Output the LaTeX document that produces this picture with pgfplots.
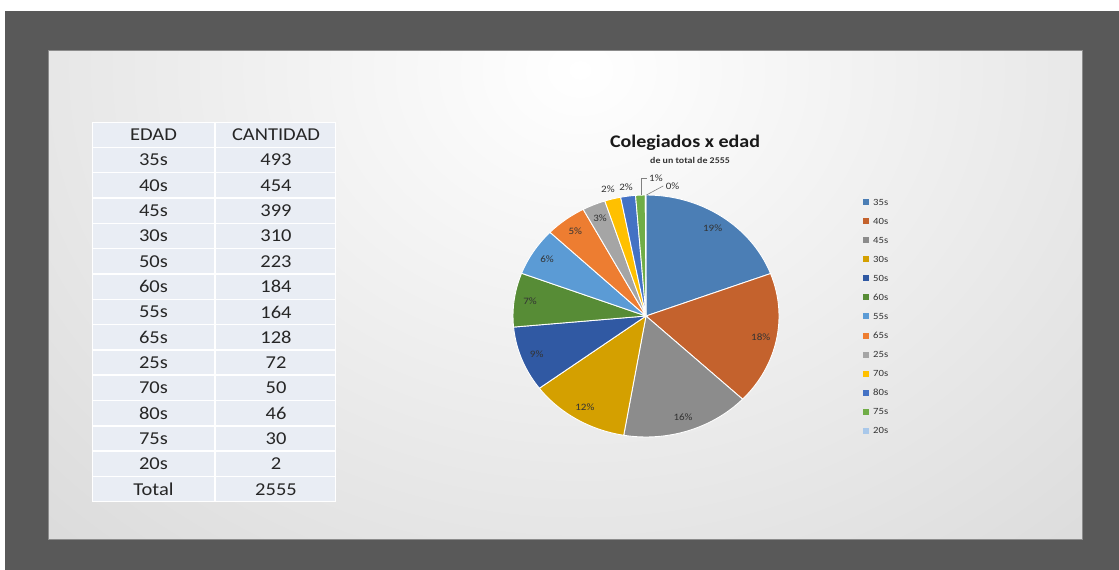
\documentclass[border=0pt]{standalone}
\usepackage{fontspec}
\setmainfont{Carlito}
\usepackage{graphicx}
\usepackage{pgfplots}
\usepackage{pgfplotstable}
\pgfplotsset{compat=1.18}

\definecolor{fondo}{HTML}{595959}
\definecolor{panelgris}{HTML}{C6C6C6}
\definecolor{celda}{HTML}{E9EDF4}
\definecolor{texto}{HTML}{333333}
\definecolor{c0}{HTML}{4B7EB5}
\definecolor{c1}{HTML}{C4622D}
\definecolor{c2}{HTML}{8C8C8C}
\definecolor{c3}{HTML}{D4A000}
\definecolor{c4}{HTML}{3059A3}
\definecolor{c5}{HTML}{578C36}
\definecolor{c6}{HTML}{5B9BD5}
\definecolor{c7}{HTML}{ED7D31}
\definecolor{c8}{HTML}{A5A5A5}
\definecolor{c9}{HTML}{FFC000}
\definecolor{c10}{HTML}{4472C4}
\definecolor{c11}{HTML}{70AD47}
\definecolor{c12}{HTML}{A9C8EA}

\pgfdeclareradialshading{panel}{\pgfpointorigin}{color(0bp)=(white); color(50bp)=(panelgris); color(80bp)=(panelgris)}

% texto algo ensanchado, como en la captura
\newcommand\ancho[1]{\scalebox{1.13}[1]{#1}}

% colegiados por edad
\pgfplotstableread{
edad cantidad
35s 493
40s 454
45s 399
30s 310
50s 223
60s 184
55s 164
65s 128
25s 72
70s 50
80s 46
75s 30
20s 2
}\datos

\begin{document}
\begin{tikzpicture}[x=1bp,y=1bp]

% --- sumas y angulos
\pgfplotstablegetrowsof{\datos}
\pgfmathtruncatemacro\nfil{\pgfplotsretval-1}
\def\total{0}
\pgfplotsforeachungrouped \i in {0,...,\nfil}{%
  \pgfplotstablegetelem{\i}{cantidad}\of\datos
  \pgfmathtruncatemacro\total{\total+\pgfplotsretval}}
\def\cum{0}
\pgfplotsforeachungrouped \i in {0,...,\nfil}{%
  \pgfplotstablegetelem{\i}{cantidad}\of\datos
  \let\val\pgfplotsretval
  \pgfmathsetmacro\angA{90-360*(\cum/\total)}
  \pgfmathtruncatemacro\cum{\cum+\val}
  \pgfmathsetmacro\angB{90-360*(\cum/\total)}
  \pgfmathsetmacro\angM{(\angA+\angB)/2}
  \pgfmathtruncatemacro\pcv{round(100*(\val/\total))}
  \pgfmathsetmacro\xa{cos(\angA)}
  \pgfmathsetmacro\ya{sin(\angA)}
  \pgfmathsetmacro\lx{0.88*cos(\angM)}
  \pgfmathsetmacro\ly{0.88*sin(\angM)}
  \expandafter\xdef\csname sa\i\endcsname{\angA}
  \expandafter\xdef\csname sb\i\endcsname{\angB}
  \expandafter\xdef\csname xa\i\endcsname{\xa}
  \expandafter\xdef\csname ya\i\endcsname{\ya}
  \expandafter\xdef\csname lx\i\endcsname{\lx}
  \expandafter\xdef\csname ly\i\endcsname{\ly}
  \expandafter\xdef\csname pc\i\endcsname{\pcv}}

\begin{scope}[y=-1bp, yshift=570bp]
  % marco y panel
  \fill[white] (0,0) rectangle (1119,570);
  \fill[fondo] (5,11) rectangle (1119,570);
  \begin{scope}
    \clip (48,51) rectangle (1082,540);
    \shade[overlay, shading=panel] (-40,-450) rectangle (1200,590);
  \end{scope}
  \draw[black!45, line width=1bp] (48,51) rectangle (1082,540);

  % tabla
  \def\h{25.33}
  \fill[white] (92,122) rectangle (336,502);
  \foreach \r in {0,...,14}{
    \fill[celda] (93,{122+\r*\h+0.8}) rectangle (214.3,{122+(\r+1)*\h-0.8});
    \fill[celda] (215.7,{122+\r*\h+0.8}) rectangle (335,{122+(\r+1)*\h-0.8});
  }
  \begin{scope}[every node/.style={text=black!85, font=\fontsize{18.2}{20}\selectfont}]
    \node at (153.5,{122+0.5*\h}) {\ancho{EDAD}};
    \node at (276,{122+0.5*\h}) {\ancho{CANTIDAD}};
    \foreach \r in {0,...,12}{
      \pgfplotstablegetelem{\r}{edad}\of\datos
      \let\ed\pgfplotsretval
      \pgfplotstablegetelem{\r}{cantidad}\of\datos
      \let\ca\pgfplotsretval
      \node at (153.5,{122+(\r+1.5)*\h}) {\ancho{\ed}};
      \node at (276,{122+(\r+1.5)*\h}) {\ancho{\ca}};
    }
    \node at (153.5,{122+14.5*\h}) {\ancho{Total}};
    \node at (276,{122+14.5*\h}) {\ancho{\total}};
  \end{scope}

  % titulo
  \node[font=\fontsize{17.8}{20}\selectfont\bfseries, text=black!90] at (685,143) {\ancho{Colegiados x edad}};
  \node[font=\fontsize{8.8}{10}\selectfont\bfseries, text=black!80] at (690,160) {\ancho{de un total de \total}};

  % leyenda
  \foreach \r in {0,...,12}{
    \pgfplotstablegetelem{\r}{edad}\of\datos
    \let\ed\pgfplotsretval
    \pgfmathsetmacro\ly{202+19.08*\r}
    \fill[c\r] (863,\ly-3) rectangle (869,\ly+3);
    \node[anchor=west, inner sep=0pt, text=texto, font=\fontsize{9.5}{11}\selectfont] at (873,\ly) {\ancho{\ed}};
  }
\end{scope}

\begin{axis}[
  at={(646bp,254bp)}, anchor=origin,
  width=266bp, height=242bp, scale only axis,
  hide axis, clip=false,
  xmin=-1, xmax=1, ymin=-1, ymax=1,
]
  \pgfplotsforeachungrouped \i in {0,...,\nfil}{%
    \edef\tmp{\noexpand\fill[c\i, draw=white, line width=0.9bp]
      (axis cs:0,0) -- (axis cs:\csname xa\i\endcsname,\csname ya\i\endcsname)
      arc[start angle=\csname sa\i\endcsname, end angle=\csname sb\i\endcsname,
          x radius=133bp, y radius=121bp] -- cycle;}%
    \tmp}
  \pgfplotsforeachungrouped \i in {0,...,8}{%
    \edef\tmp{\noexpand\node[text=texto, font=\noexpand\fontsize{9.8}{11}\noexpand\selectfont]
      at (axis cs:\csname lx\i\endcsname,\csname ly\i\endcsname)
      {\noexpand\ancho{\csname pc\i\endcsname\noexpand\%}};}%
    \tmp}
  \begin{scope}[every node/.style={text=texto, font=\fontsize{9.8}{11}\selectfont}]
    \node at (axis cs:-0.286,1.05) {\ancho{\csname pc9\endcsname\%}};
    \node at (axis cs:-0.15,1.066) {\ancho{\csname pc10\endcsname\%}};
    \draw[black!50, line width=0.6bp] (axis cs:-0.035,1.0) -- (axis cs:-0.035,1.14) -- (axis cs:0.01,1.14);
    \node[anchor=west, inner sep=1pt] at (axis cs:0.015,1.14) {\ancho{\csname pc11\endcsname\%}};
    \draw[black!50, line width=0.6bp] (axis cs:0.003,1.0) -- (axis cs:0.13,1.075);
    \node[anchor=west, inner sep=1pt] at (axis cs:0.14,1.075) {\ancho{\csname pc12\endcsname\%}};
  \end{scope}
\end{axis}
\end{tikzpicture}
\end{document}
